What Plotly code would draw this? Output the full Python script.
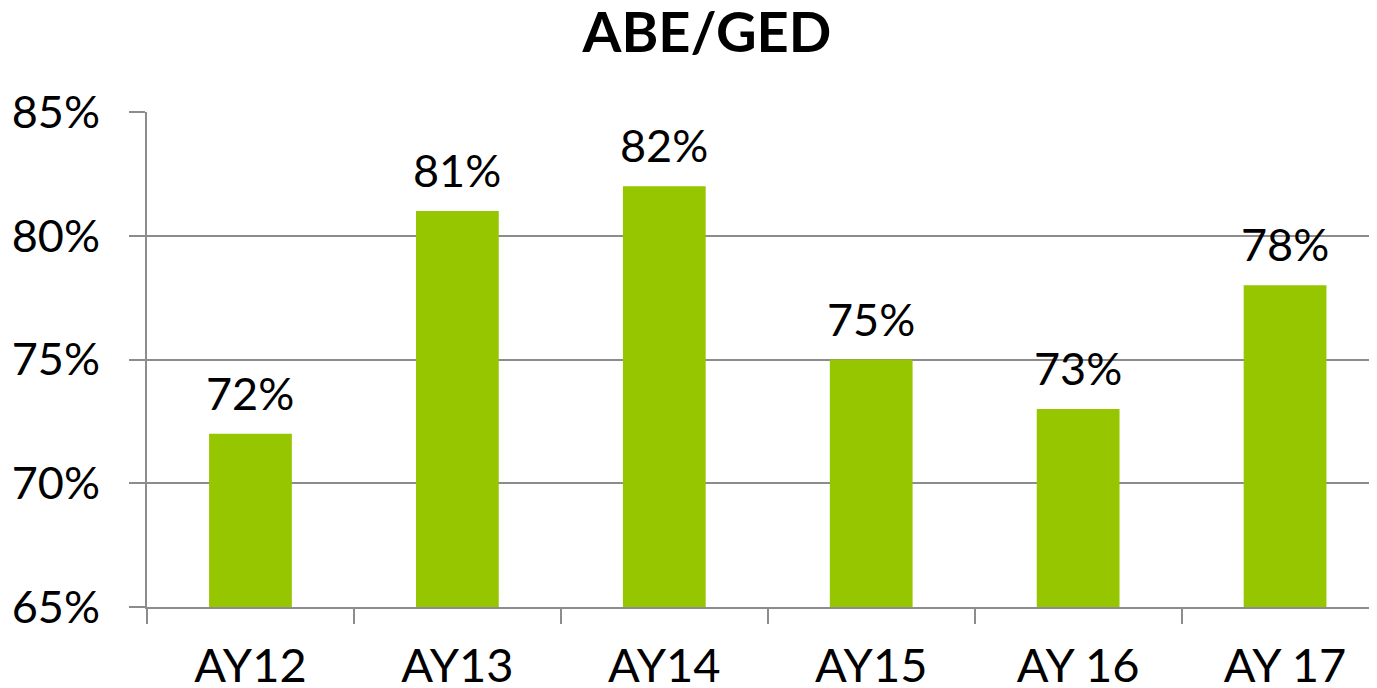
import plotly.graph_objects as go

categories = ["AY12", "AY13", "AY14", "AY15", "AY 16", "AY 17"]
values = [72, 81, 82, 75, 73, 78]
labels = ["72%", "81%", "82%", "75%", "73%", "78%"]
ytick_vals = [65, 70, 75, 80, 85]
ytick_text = ["65%", "70%", "75%", "80%", "85%"]

FONT = "Lato"
GRID = "#8c8c8c"

fig = go.Figure(go.Bar(
    x=categories, y=values,
    marker=dict(color="#95c600", line=dict(width=0)),
    width=0.4, cliponaxis=False,
))

for c, v, t in zip(categories, values, labels):
    fig.add_annotation(x=c, y=v, text=t, showarrow=False, yanchor="bottom", yshift=12,
                       font=dict(family=FONT, size=45, color="black"))

fig.update_layout(
    width=1377, height=688,
    margin=dict(l=139, r=0, t=104, b=89, autoexpand=False),
    paper_bgcolor="white", plot_bgcolor="white",
    title=dict(text="<b>ABE/GED</b>", x=0.5076, xanchor="center", y=0.964, yanchor="middle",
               font=dict(family=FONT, size=56, color="black")),
    showlegend=False,
)
fig.update_xaxes(
    type="category", range=[-0.5, 5.483], automargin=False,
    showgrid=False, showline=True, linecolor=GRID, linewidth=2,
    ticks="outside", tickson="boundaries", ticklen=15, tickcolor=GRID, tickwidth=2,
    ticklabelstandoff=17,
    tickfont=dict(family=FONT, size=47, color="black"),
)
fig.update_yaxes(
    range=[65, 85], tickvals=ytick_vals, ticktext=ytick_text, automargin=False,
    showgrid=True, gridcolor=GRID, gridwidth=2,
    showline=True, linecolor=GRID, linewidth=2,
    ticks="outside", ticklen=16, tickcolor=GRID, tickwidth=2,
    ticklabelstandoff=20,
    tickfont=dict(family=FONT, size=45, color="black"),
    zeroline=False,
)

fig.write_html("out.html")
